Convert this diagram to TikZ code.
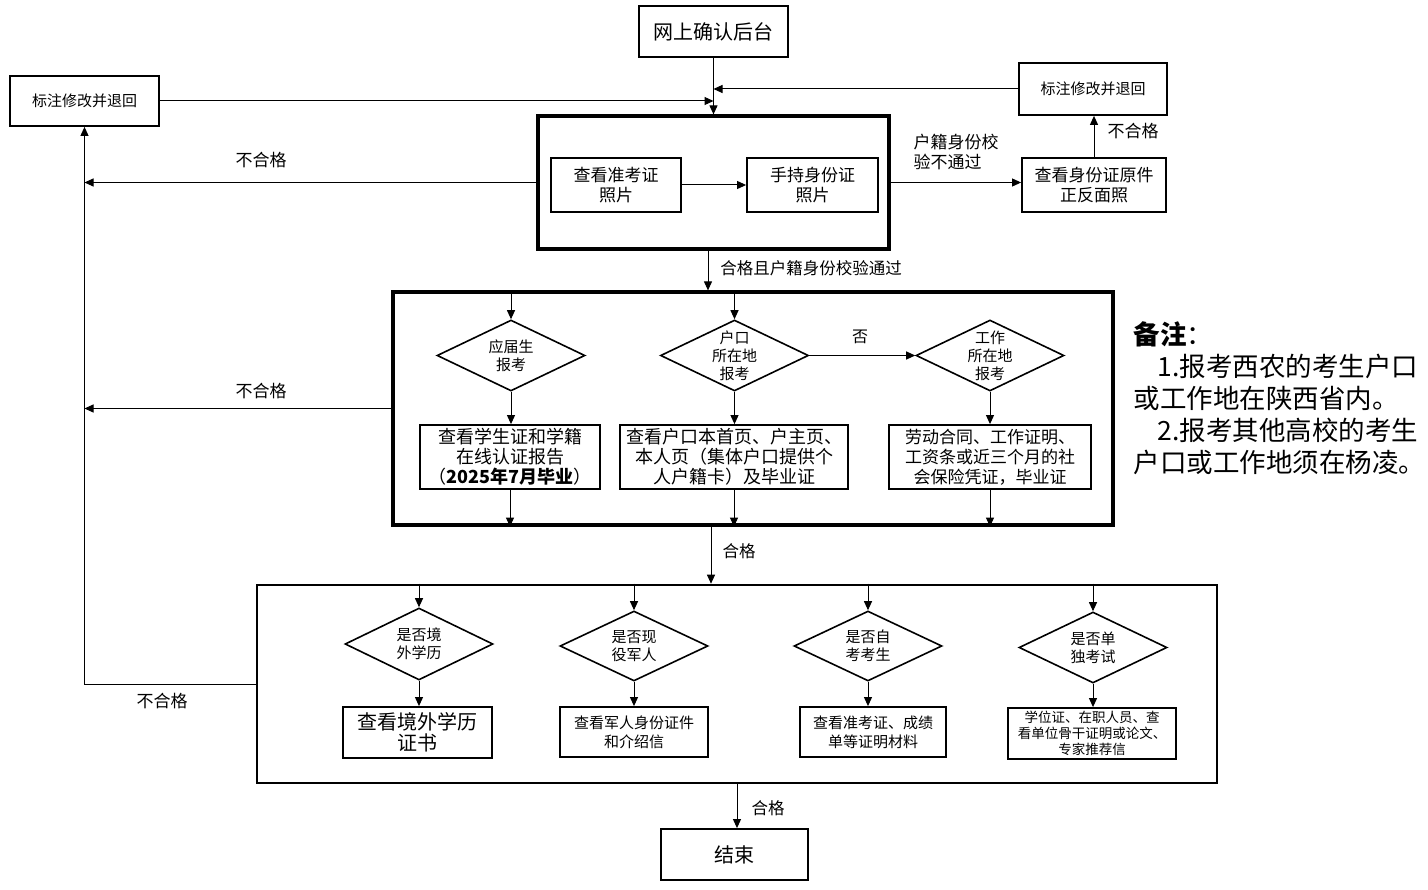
\documentclass[tikz,border=0pt]{standalone}
\usepackage{fontspec}
\setmainfont{Noto Sans CJK SC}
\usetikzlibrary{shapes.geometric,arrows.meta}
\begin{document}
\begin{tikzpicture}[x=1pt,y=-1pt,
  >={Triangle[length=9pt,width=8pt]},
  line width=1pt,
  sz/.style 2 args={minimum width=#1pt, minimum height=#2pt},
  box/.style={draw, line width=1.8pt, inner sep=0pt, align=center},
  bigbox/.style={draw, line width=3.2pt, inner sep=0pt},
  dia/.style={diamond, draw, line width=1.6pt, minimum width=148pt, minimum height=71pt, inner sep=0pt},
  dtext/.style={inner sep=0pt, align=center, font=\fontsize{15}{18}\selectfont},
  lbl/.style={inner sep=0pt, font=\fontsize{17}{20}\selectfont},
  arr/.style={->, line width=1pt}
]
\useasboundingbox (0,0) rectangle (1428,890);

% top part
\node[box, sz={149}{51}, font=\fontsize{20}{24}\selectfont] (top) at (713.5,31.5) {网上确认后台};
\node[box, sz={149}{50}, font=\fontsize{15}{18}\selectfont] (L) at (84.5,101) {标注修改并退回};
\node[box, sz={148}{52}, font=\fontsize{15}{18}\selectfont] (R) at (1093,89) {标注修改并退回};
\node[bigbox, sz={351}{133}] (b1) at (713.5,182.5) {};
\node[box, sz={130}{54}, font=\fontsize{17}{20}\selectfont] (p1) at (616,185) {查看准考证\\照片};
\node[box, sz={131}{54}, font=\fontsize{17}{20}\selectfont] (p2) at (812.5,185) {手持身份证\\照片};
\node[box, sz={144}{54}, font=\fontsize{17}{20}\selectfont] (id) at (1094,185) {查看身份证原件\\正反面照};

% middle block
\node[bigbox, sz={720}{233}] (b2) at (753,408.5) {};
\node[dia, label={[dtext]center:应届生\\报考}] (d1) at (511,355.5) {};
\node[dia, label={[dtext]center:户口\\所在地\\报考}] (d2) at (734.5,355.5) {};
\node[dia, label={[dtext]center:工作\\所在地\\报考}] (d3) at (990,355.5) {};
\node[box, sz={180}{64}, font=\fontsize{18}{20}\selectfont] (c1) at (510,457) {查看学生证和学籍\\在线认证报告\\（\textbf{2025年7月毕业}）};
\node[box, sz={228}{64}, font=\fontsize{18}{20}\selectfont] (c2) at (734,457) {查看户口本首页、户主页、\\本人页（集体户口提供个\\人户籍卡）及毕业证};
\node[box, sz={202}{64}, font=\fontsize{17}{20}\selectfont] (c3) at (990,457) {劳动合同、工作证明、\\工资条或近三个月的社\\会保险凭证，毕业证};

% bottom block
\node[draw, line width=2.6pt, inner sep=0pt, sz={960}{198}] (b3) at (737,684) {};
\node[dia, minimum height=72pt, label={[dtext]center:是否境\\外学历}] (e1) at (419,644) {};
\node[dia, minimum height=70pt, label={[dtext]center:是否现\\役军人}] (e2) at (634,646) {};
\node[dia, minimum height=70pt, label={[dtext]center:是否自\\考考生}] (e3) at (868,646) {};
\node[dia, label={[dtext]center:是否单\\独考试}] (e4) at (1093,647.5) {};
\node[box, sz={149}{51}, font=\fontsize{20}{21}\selectfont] (f1) at (417.5,732.5) {查看境外学历\\证书};
\node[box, sz={148}{50}, font=\fontsize{15}{19}\selectfont] (f2) at (634,732) {查看军人身份证件\\和介绍信};
\node[box, sz={146}{50}, font=\fontsize{15}{19}\selectfont] (f3) at (873,732) {查看准考证、成绩\\单等证明材料};
\node[box, sz={168}{51}, font=\fontsize{13.5}{16}\selectfont] (f4) at (1092,733.5) {学位证、在职人员、查\\看单位骨干证明或论文、\\专家推荐信};
\node[box, sz={147}{51}, font=\fontsize{20}{24}\selectfont] (end) at (734.5,854.5) {结束};

% labels
\node[lbl] (n1) at (261,160) {不合格};
\node[lbl] (n2) at (261,391) {不合格};
\node[lbl] (n3) at (162,701) {不合格};
\node[lbl] (n4) at (1133,131) {不合格};
\node[lbl, anchor=west, align=left] (hj) at (913,152) {户籍身份校\\验不通过};
\node[lbl, font=\fontsize{16.5}{20}\selectfont] (ok1) at (811,268) {合格且户籍身份校验通过};
\node[lbl, font=\fontsize{16}{20}\selectfont] (no) at (860,337) {否};
\node[lbl, font=\fontsize{16.5}{20}\selectfont] (ok2) at (739,551) {合格};
\node[lbl, font=\fontsize{16.5}{20}\selectfont] (ok3) at (768,808) {合格};

% note
\node[inner sep=0pt, anchor=north west, align=left, font=\fontsize{26.5}{32}\selectfont] (note) at (1133,321)
  {\textbf{备注}：\\\hspace*{24pt}1.报考西农的考生户口\\或工作地在陕西省内。\\\hspace*{24pt}2.报考其他高校的考生\\户口或工作地须在杨凌。};

% connectors top
\draw[arr] (top.south) -- (b1.north);
\draw[arr] (L.east) -- (L.east -| top.south);
\draw[arr] (R.west) -- (R.west -| top.south);
\draw[arr] (p1.east) -- (p2.west);
\draw[arr] (b1.east) -- (b1.east -| id.west);
\draw[arr] (id.north) -- (id.north |- R.south);
\draw[arr] (b1.west) -- (b1.west -| L.south);
\draw[arr] (b2.west) -- (b2.west -| L.south);
\draw[arr] (b3.west) -| (L.south);
\draw[arr] ([xshift=-5.5pt]b1.south) -- ([xshift=-5.5pt]b1.south |- b2.north);

% connectors middle
\draw[arr] (d1.north |- b2.north) -- (d1.north);
\draw[arr] (d2.north |- b2.north) -- (d2.north);
\draw[arr] (d2.east) -- (d3.west);
\draw[arr] (d1.south) -- (d1.south |- c1.north);
\draw[arr] (d2.south) -- (d2.south |- c2.north);
\draw[arr] (d3.south) -- (d3.south |- c3.north);
\draw[arr] (c1.south) -- (c1.south |- b2.south);
\draw[arr] (c2.south) -- (c2.south |- b2.south);
\draw[arr] (c3.south) -- (c3.south |- b2.south);
\draw[arr] ([xshift=-42pt]b2.south) -- ([xshift=-42pt]b2.south |- b3.north);

% connectors bottom
\draw[arr] (e1.north |- b3.north) -- (e1.north);
\draw[arr] (e2.north |- b3.north) -- (e2.north);
\draw[arr] (e3.north |- b3.north) -- (e3.north);
\draw[arr] (e4.north |- b3.north) -- (e4.north);
\draw[arr] (e1.south) -- (e1.south |- f1.north);
\draw[arr] (e2.south) -- (e2.south |- f2.north);
\draw[arr] (e3.south) -- (e3.south |- f3.north);
\draw[arr] (e4.south) -- (e4.south |- f4.north);
\draw[arr] (b3.south) -- (b3.south |- end.north);
\end{tikzpicture}
\end{document}
